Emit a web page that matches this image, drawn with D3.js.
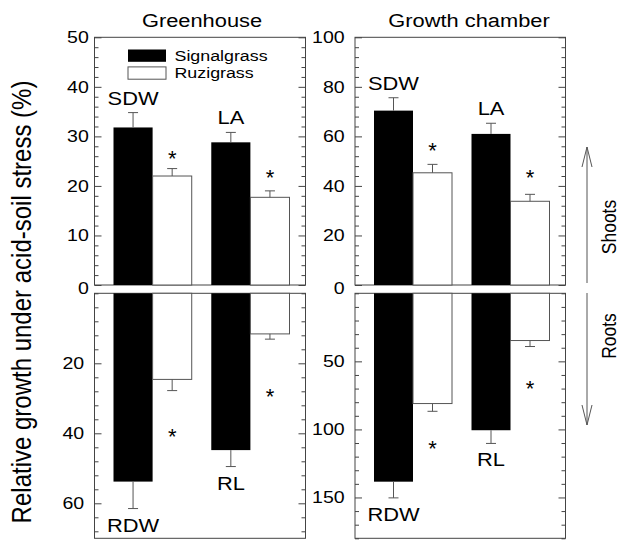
<!DOCTYPE html>
<html>
<head>
<meta charset="utf-8">
<script src="https://cdn.jsdelivr.net/npm/d3@7/dist/d3.min.js"></script>
<style>
  body { margin: 0; background: #fff; }
  svg { display: block; }
</style>
</head>
<body>
<div id="chart"></div>
<script>
// categories
var series = ["Signalgrass", "Ruzigrass"];
var shootMeasures = ["SDW", "LA"];
var rootMeasures = ["RDW", "RL"];

// Greenhouse, shoots
var ghShootSignal = [31.8, 28.8];
var ghShootSignalErr = [3.0, 2.0];
var ghShootRuzi = [22.0, 17.7];
var ghShootRuziErr = [1.5, 1.3];
var ghShootStar = [26.6, 22.9];

// Greenhouse, roots
var ghRootSignal = [53.8, 44.8];
var ghRootSignalErr = [7.7, 4.7];
var ghRootRuzi = [24.6, 11.6];
var ghRootRuziErr = [3.2, 1.5];
var ghRootStar = [39.3, 27.9];

// Growth chamber, shoots
var gcShootSignal = [70.4, 61.0];
var gcShootSignalErr = [5.2, 4.3];
var gcShootRuzi = [45.3, 33.8];
var gcShootRuziErr = [3.4, 2.8];
var gcShootStar = [56.8, 45.5];

// Growth chamber, roots
var gcRootSignal = [138.4, 100.6];
var gcRootSignalErr = [11.9, 9.7];
var gcRootRuzi = [81.0, 34.7];
var gcRootRuziErr = [5.7, 4.4];
var gcRootStar = [109.8, 65.4];

// tick labels
var ghShootTicks = [0, 10, 20, 30, 40, 50];
var ghRootTicks = [20, 40, 60];
var gcShootTicks = [0, 20, 40, 60, 80, 100];
var gcRootTicks = [50, 100, 150];

var titles = ["Greenhouse", "Growth chamber"];
var yTitle = "Relative growth under acid-soil stress (%)";

var width = 626, height = 540;
var FONT = "'Liberation Sans', Arial, Helvetica, sans-serif";
// the scanned figure is a bit wider than tall, stretch text the same way
var SX = 1.15;

var svg = d3.select("#chart").append("svg")
    .attr("width", width)
    .attr("height", height)
    .style("font-family", FONT);

svg.append("rect").attr("width", width).attr("height", height).attr("fill", "#fff");

function stretched(g, x, y, txt, size) {
    return g.append("text")
        .attr("transform", "translate(" + x + "," + y + ") scale(" + SX + ",1)")
        .attr("font-size", size)
        .attr("fill", "#000")
        .text(txt);
}

var panels = [
    {x0: 94.5, x1: 305.5, y0: 37.3, y1: 285, domain: [0, 50], up: true, major: ghShootTicks, minorStep: 2,
     cats: shootMeasures, vals: [ghShootSignal, ghShootRuzi], errs: [ghShootSignalErr, ghShootRuziErr], stars: ghShootStar, pad: 5},
    {x0: 94.5, x1: 305.5, y0: 293.3, y1: 538.3, domain: [0, 70], up: false, major: ghRootTicks, minorStep: 4,
     cats: rootMeasures, vals: [ghRootSignal, ghRootRuzi], errs: [ghRootSignalErr, ghRootRuziErr], stars: ghRootStar, pad: 9},
    {x0: 355, x1: 565.5, y0: 37.3, y1: 285, domain: [0, 100], up: true, major: gcShootTicks, minorStep: 4,
     cats: shootMeasures, vals: [gcShootSignal, gcShootRuzi], errs: [gcShootSignalErr, gcShootRuziErr], stars: gcShootStar, pad: 9},
    {x0: 355, x1: 565.5, y0: 293.3, y1: 538.3, domain: [0, 180], up: false, major: gcRootTicks, minorStep: 10,
     cats: rootMeasures, vals: [gcRootSignal, gcRootRuzi], errs: [gcRootSignalErr, gcRootRuziErr], stars: gcRootStar, pad: 9}
];

var fills = ["#000", "#fff"];

panels.forEach(function(p) {
    var g = svg.append("g");
    var y = d3.scaleLinear().domain(p.domain)
        .range(p.up ? [p.y1, p.y0] : [p.y0, p.y1]);
    var xb = d3.scaleBand().domain(p.cats)
        .range([p.x0 + 19, p.x1 - 16]).paddingInner(0.2);
    var xs = d3.scaleBand().domain(series).range([0, xb.bandwidth()]);

    // minor ticks
    var minor = d3.range(p.domain[0], p.domain[1] + 0.001, p.minorStep)
        .filter(function(v) { return p.major.indexOf(v) < 0; });

    var axL = g.append("g").attr("transform", "translate(" + p.x0 + ",0)")
        .call(d3.axisLeft(y).tickValues(minor).tickSize(-4).tickFormat(""));
    var axR = g.append("g").attr("transform", "translate(" + p.x1 + ",0)")
        .call(d3.axisRight(y).tickValues(minor).tickSize(-4).tickFormat(""));
    var axLM = g.append("g").attr("transform", "translate(" + p.x0 + ",0)")
        .call(d3.axisLeft(y).tickValues(p.major).tickSize(-7).tickPadding(p.pad));
    var axRM = g.append("g").attr("transform", "translate(" + p.x1 + ",0)")
        .call(d3.axisRight(y).tickValues(p.major).tickSize(-7).tickFormat(""));

    [axL, axR, axLM, axRM].forEach(function(a) {
        a.select(".domain").remove();
        a.selectAll("line").attr("stroke", "#444");
    });
    axLM.selectAll("text")
        .attr("font-family", FONT)
        .attr("font-size", 17)
        .attr("fill", "#000")
        .attr("transform", function(d) {
            var s = "scale(" + SX + ",1)";
            return d === 0 ? "translate(0,3) " + s : s;
        });

    // frame
    g.append("rect")
        .attr("x", p.x0).attr("y", p.y0)
        .attr("width", p.x1 - p.x0).attr("height", p.y1 - p.y0)
        .attr("fill", "none").attr("stroke", "#444").attr("stroke-width", 1);

    // bars, error bars
    series.forEach(function(s, si) {
        p.cats.forEach(function(c, ci) {
            var v = p.vals[si][ci], e = p.errs[si][ci];
            var bx = xb(c) + xs(s), bw = xs.bandwidth(), cx = bx + bw / 2;
            g.append("rect")
                .attr("x", bx).attr("width", bw)
                .attr("y", Math.min(y(0), y(v)))
                .attr("height", Math.abs(y(v) - y(0)))
                .attr("fill", fills[si])
                .attr("stroke", si === 0 ? "#000" : "#555")
                .attr("stroke-width", si === 0 ? 0 : 1);
            g.append("line")
                .attr("x1", cx).attr("x2", cx)
                .attr("y1", y(v)).attr("y2", y(v + e))
                .attr("stroke", "#555").attr("stroke-width", 1);
            g.append("line")
                .attr("x1", cx - 5).attr("x2", cx + 5)
                .attr("y1", y(v + e)).attr("y2", y(v + e))
                .attr("stroke", "#555").attr("stroke-width", 1);

            if (si === 0) {
                var ly = p.up ? y(v + e) - 8 : y(v + e) + 23;
                stretched(g, cx, ly, c, 19).attr("text-anchor", "middle");
            } else {
                g.append("text")
                    .attr("x", cx).attr("y", y(p.stars[ci]))
                    .attr("dy", "0.6em")
                    .attr("text-anchor", "middle")
                    .attr("font-size", 22)
                    .text("*");
            }
        });
    });
});

// legend
var legend = svg.append("g").attr("transform", "translate(128,49.5)");
series.forEach(function(s, i) {
    legend.append("rect")
        .attr("x", 0).attr("y", i * 17.4)
        .attr("width", 38).attr("height", 12.3)
        .attr("fill", fills[i])
        .attr("stroke", i === 0 ? "none" : "#555");
    stretched(legend, 46.5, i * 17.4 + 11.3, s, 15.5);
});

// panel titles
stretched(svg, 202, 26.5, titles[0], 19).attr("text-anchor", "middle");
stretched(svg, 469, 26.5, titles[1], 19).attr("text-anchor", "middle");

// y axis title
svg.append("text")
    .attr("transform", "translate(31,302) scale(" + SX + ",1) rotate(-90)")
    .attr("text-anchor", "middle")
    .attr("font-size", 24)
    .text(yTitle);

// Shoots / Roots arrows
var arrows = svg.append("g").attr("stroke", "#555").attr("fill", "none").attr("stroke-width", 1);
arrows.append("line").attr("x1", 587).attr("x2", 587).attr("y1", 283).attr("y2", 147);
arrows.append("polyline").attr("points", "582,167 587,147 592,167");
arrows.append("line").attr("x1", 587).attr("x2", 587).attr("y1", 293).attr("y2", 425);
arrows.append("polyline").attr("points", "582,405 587,425 592,405");

svg.append("text")
    .attr("transform", "translate(616,227) scale(" + SX + ",1) rotate(-90)")
    .attr("text-anchor", "middle")
    .attr("font-size", 17.5)
    .text("Shoots");
svg.append("text")
    .attr("transform", "translate(616,336) scale(" + SX + ",1) rotate(-90)")
    .attr("text-anchor", "middle")
    .attr("font-size", 17.5)
    .text("Roots");
</script>
</body>
</html>
